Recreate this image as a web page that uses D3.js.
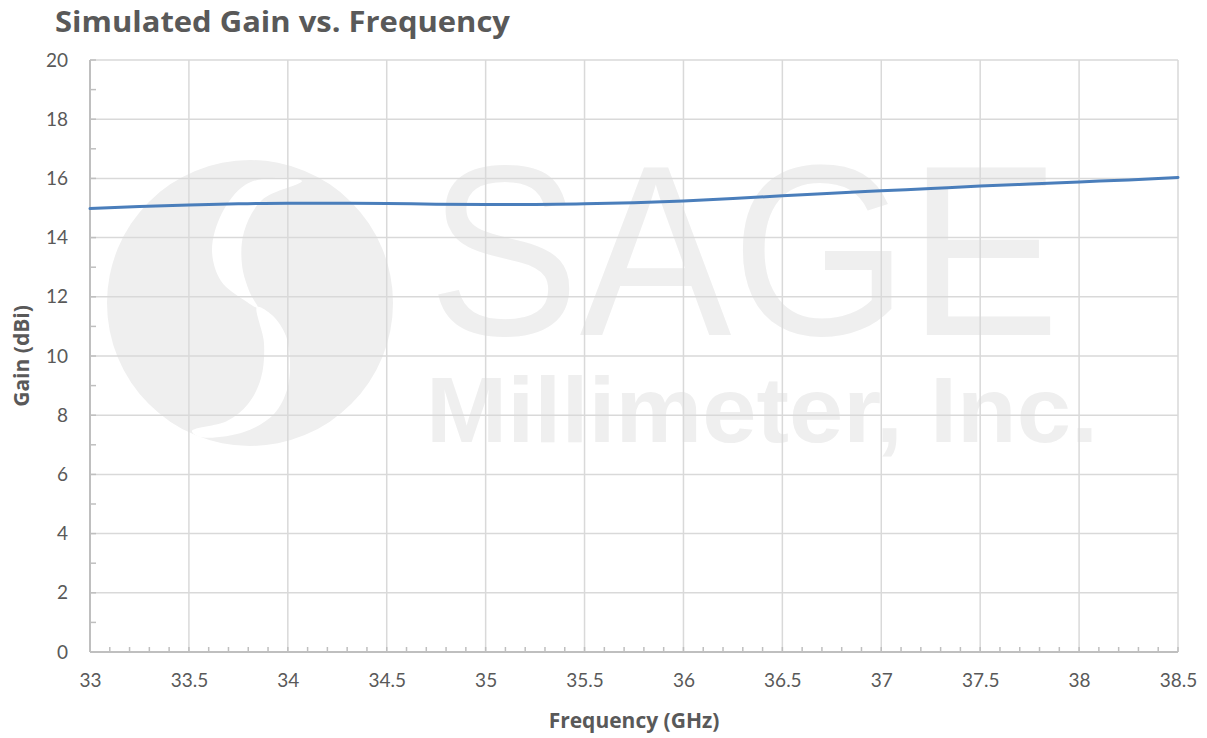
<!DOCTYPE html>
<html>
<head>
<meta charset="utf-8">
<script src="https://cdn.jsdelivr.net/npm/d3@7"></script>
<style>
  body { margin: 0; background: #fff; }
  text { font-family: Lato, "Open Sans", sans-serif; }
</style>
</head>
<body>
<div class="content"></div>
<script>
// data
const freq = [33, 33.25, 33.5, 33.75, 34, 34.25, 34.5, 34.75, 35, 35.25, 35.5, 35.75,
  36, 36.25, 36.5, 36.75, 37, 37.25, 37.5, 37.75, 38, 38.25, 38.5];
const gain = [14.98, 15.05, 15.10, 15.14, 15.16, 15.16, 15.15, 15.13, 15.12, 15.12, 15.14, 15.18,
  15.24, 15.32, 15.41, 15.50, 15.58, 15.66, 15.74, 15.81, 15.88, 15.95, 16.03];
const xTicks = [33, 33.5, 34, 34.5, 35, 35.5, 36, 36.5, 37, 37.5, 38, 38.5];
const yTicks = [0, 2, 4, 6, 8, 10, 12, 14, 16, 18, 20];

const [svgWidth, svgHeight] = [1207, 738];
const margin = {top: 60, right: 29, bottom: 86, left: 90};
const grey = '#595959';
const boldFont = '"Open Sans", Lato, sans-serif';

const svg = d3.select('.content')
  .append('svg')
  .attr('width', svgWidth)
  .attr('height', svgHeight);

const x = d3.scaleLinear()
  .domain([33, 38.5])
  .range([margin.left, svgWidth - margin.right]);
const y = d3.scaleLinear()
  .domain([0, 20])
  .range([svgHeight - margin.bottom, margin.top]);

// watermark (logo + company name), sits behind everything
const wm = svg.append('g').attr('fill', '#efefef');
const cx = 250, cy = 303, r = 143;
wm.append('circle').attr('cx', cx).attr('cy', cy).attr('r', r);
const blob = d3.line().curve(d3.curveCatmullRomClosed);
const cuts = [
  [[245,185],[222,213],[212,250],[221,281],[244,300],[258,308],[250,293],[242,265],[244,232],[262,200],[302,181],[272,178]],
  [[257,307],[264,343],[261,378],[248,404],[227,421],[192,431],[200,437],[244,432],[274,414],[287,390],[290,366],[286,336],[272,315]]
];
wm.selectAll('path.cut')
  .data(cuts)
  .enter()
  .append('path')
  .classed('cut', true)
  .attr('fill', '#fff')
  .attr('d', d => blob(d));
wm.append('text')
  .attr('x', 428).attr('y', 335)
  .attr('textLength', 632)
  .attr('lengthAdjust', 'spacingAndGlyphs')
  .style('font-family', '"Liberation Sans", Arial, sans-serif')
  .style('font-size', '244px')
  .text('SAGE');
wm.append('text')
  .attr('x', 426).attr('y', 442)
  .attr('textLength', 672)
  .attr('lengthAdjust', 'spacingAndGlyphs')
  .style('font-family', '"Liberation Sans", Arial, sans-serif')
  .style('font-weight', 'bold')
  .style('font-size', '92px')
  .text('Millimeter, Inc.');

// grid
svg.append('g')
  .selectAll('line')
  .data(xTicks.slice(1))
  .enter()
  .append('line')
  .attr('x1', d => x(d)).attr('x2', d => x(d))
  .attr('y1', y(20)).attr('y2', y(0))
  .attr('stroke', '#d9d9d9')
  .attr('stroke-width', 1.5);
svg.append('g')
  .selectAll('line')
  .data(yTicks.slice(1))
  .enter()
  .append('line')
  .attr('x1', x(33)).attr('x2', x(38.5))
  .attr('y1', d => y(d)).attr('y2', d => y(d))
  .attr('stroke', '#d9d9d9')
  .attr('stroke-width', 1.5);

// axes
const xAxis = d3.axisBottom(x)
  .tickValues(xTicks)
  .tickFormat(d3.format('~g'))
  .tickSize(0)
  .tickPadding(22);
const yAxis = d3.axisLeft(y)
  .tickValues(yTicks)
  .tickSize(0)
  .tickPadding(22);

const styleAxis = (g) => {
  g.select('.domain').remove();
  g.selectAll('text')
    .attr('fill', grey)
    .style('font-size', '19px')
    .style('font-family', 'Lato, "Open Sans", sans-serif');
};
svg.append('g')
  .attr('transform', `translate(0,${y(0)})`)
  .call(xAxis)
  .call(styleAxis);
svg.append('g')
  .attr('transform', `translate(${x(33)},0)`)
  .call(yAxis)
  .call(styleAxis);

// minor ticks pointing inwards
const xMinor = d3.range(330, 386).map(d => d / 10);
const yMinor = d3.range(0, 21);
svg.append('g')
  .selectAll('line')
  .data(xMinor)
  .enter()
  .append('line')
  .attr('x1', d => x(d)).attr('x2', d => x(d))
  .attr('y1', y(0)).attr('y2', y(0) - 5)
  .attr('stroke', '#bfbfbf')
  .attr('stroke-width', 1.5);
svg.append('g')
  .selectAll('line')
  .data(yMinor)
  .enter()
  .append('line')
  .attr('x1', x(33)).attr('x2', x(33) + 6)
  .attr('y1', d => y(d)).attr('y2', d => y(d))
  .attr('stroke', '#bfbfbf')
  .attr('stroke-width', 1.5);

svg.append('line')
  .attr('x1', x(33)).attr('x2', x(38.5))
  .attr('y1', y(0)).attr('y2', y(0))
  .attr('stroke', '#bfbfbf').attr('stroke-width', 2);
svg.append('line')
  .attr('x1', x(33)).attr('x2', x(33))
  .attr('y1', y(0)).attr('y2', y(20))
  .attr('stroke', '#bfbfbf').attr('stroke-width', 2);

// the series
const line = d3.line()
  .x((d, i) => x(freq[i]))
  .y(d => y(d))
  .curve(d3.curveMonotoneX);
svg.append('path')
  .datum(gain)
  .attr('fill', 'none')
  .attr('stroke', '#4a7ebb')
  .attr('stroke-width', 3)
  .attr('stroke-linecap', 'round')
  .attr('d', line);

// titles
svg.append('text')
  .attr('x', 55).attr('y', 32)
  .attr('textLength', 455)
  .attr('lengthAdjust', 'spacingAndGlyphs')
  .attr('fill', grey)
  .style('font-family', boldFont)
  .style('font-size', '29px')
  .style('font-weight', 'bold')
  .text('Simulated Gain vs. Frequency');
svg.append('text')
  .attr('x', (x(33) + x(38.5)) / 2).attr('y', 728)
  .attr('text-anchor', 'middle')
  .attr('fill', grey)
  .style('font-family', boldFont)
  .style('font-size', '21px')
  .style('font-weight', 'bold')
  .text('Frequency (GHz)');
svg.append('text')
  .attr('transform', `translate(29,${(y(0) + y(20)) / 2}) rotate(-90)`)
  .attr('text-anchor', 'middle')
  .attr('fill', grey)
  .style('font-family', boldFont)
  .style('font-size', '21px')
  .style('font-weight', 'bold')
  .text('Gain (dBi)');
</script>
</body>
</html>
